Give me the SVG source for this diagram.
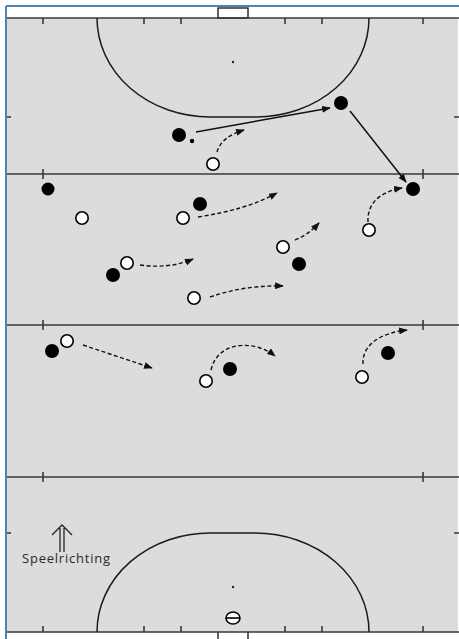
<svg xmlns="http://www.w3.org/2000/svg" width="459" height="639" viewBox="0 0 459 639">
<style>
.ln{stroke:#3a3a3a;stroke-width:1.6;fill:none}
.arc{stroke:#1a1a1a;stroke-width:1.5;fill:none}
.blk{fill:#000}
.wht{fill:#fff;stroke:#000;stroke-width:1.6}
.sol{stroke:#111;stroke-width:1.5;fill:none;marker-end:url(#ah)}
.dsh{stroke:#111;stroke-width:1.4;fill:none;stroke-dasharray:4 2.5;marker-end:url(#ah)}
.lbl{font-family:"Open Sans","Noto Sans",sans-serif;font-size:13px;fill:#2a2a2a}
</style>
<defs>
<marker id="ah" viewBox="0 0 10 8" refX="9" refY="4" markerWidth="9" markerHeight="7" markerUnits="userSpaceOnUse" orient="auto">
<path d="M0,0 L10,4 L0,8 Z" fill="#111"/>
</marker>
</defs>
<rect x="0" y="0" width="459" height="639" fill="#fff"/>
<g id="field">
<rect x="7" y="18" width="451" height="614" fill="#dcdcdc"/>
<rect x="218" y="8" width="30" height="10" fill="#fff" stroke="#222" stroke-width="1.4"/>
<path class="ln" d="M218,632 V639 M248,632 V639"/>
<path class="ln" d="M7,18 H459 M7,174 H459 M7,325 H459 M7,477 H459 M7,632 H459"/>
<path class="ln" d="M43,18 V24 M144,18 V24 M181,18 V24 M285,18 V24 M322,18 V24 M423,18 V24"/>
<path class="ln" d="M43,632 V626 M144,632 V626 M181,632 V626 M285,632 V626 M322,632 V626 M423,632 V626"/>
<path class="ln" d="M43,169 V179 M423,169 V179 M43,320 V330 M423,320 V330 M43,472 V482 M423,472 V482"/>
<path class="ln" d="M7,117 H11 M454,117 H459 M7,533 H11 M454,533 H459"/>
<path class="arc" d="M97,18 A113,99 0 0 0 210,117 L256,117 A113,99 0 0 0 369,18"/>
<path class="arc" d="M97,632 A113,99 0 0 1 211,533 L255,533 A114,99 0 0 1 369,632"/>
<circle cx="233" cy="62" r="1.2" fill="#222"/>
<circle cx="233" cy="587" r="1.2" fill="#222"/>
</g>
<path d="M6,6 H459 M6,6 V639" stroke="#4f81bd" stroke-width="2" fill="none"/>
<g id="connectors">
<path class="sol" d="M196,132 L330,108"/>
<path class="sol" d="M350,111 L406,182"/>
<path class="dsh" d="M217,152 Q221,137 244,130"/>
<path class="dsh" d="M198,217 C230,212 255,205 277,193"/>
<path class="dsh" d="M295,240 Q308,235 319,223"/>
<path class="dsh" d="M368,222 C367,205 378,192 402,188"/>
<path class="dsh" d="M140,265 Q170,269 193,259"/>
<path class="dsh" d="M210,297 Q245,285 283,286"/>
<path class="dsh" d="M83,345 L152,368"/>
<path class="dsh" d="M211,370 C218,340 255,340 275,356"/>
<path class="dsh" d="M363,364 C362,345 380,333 407,330"/>
</g>
<g id="ball-top"><circle cx="192" cy="141" r="2.2" class="blk"/></g>
<g id="b1"><circle cx="179" cy="135" r="7" class="blk"/></g>
<g id="b2"><circle cx="341" cy="103" r="7" class="blk"/></g>
<g id="w1"><circle cx="213" cy="164" r="6.2" class="wht"/></g>
<g id="b3"><circle cx="48" cy="189" r="6.5" class="blk"/></g>
<g id="w2"><circle cx="82" cy="218" r="6.2" class="wht"/></g>
<g id="b4"><circle cx="200" cy="204" r="7" class="blk"/></g>
<g id="w3"><circle cx="183" cy="218" r="6.2" class="wht"/></g>
<g id="w4"><circle cx="283" cy="247" r="6.2" class="wht"/></g>
<g id="b5"><circle cx="299" cy="264" r="7" class="blk"/></g>
<g id="w5"><circle cx="369" cy="230" r="6.2" class="wht"/></g>
<g id="b6"><circle cx="413" cy="189" r="7" class="blk"/></g>
<g id="w6"><circle cx="127" cy="263" r="6.2" class="wht"/></g>
<g id="b7"><circle cx="113" cy="275" r="7" class="blk"/></g>
<g id="w7"><circle cx="194" cy="298" r="6.2" class="wht"/></g>
<g id="b8"><circle cx="52" cy="351" r="7" class="blk"/></g>
<g id="w8"><circle cx="67" cy="341" r="6.2" class="wht"/></g>
<g id="w9"><circle cx="206" cy="381" r="6.2" class="wht"/></g>
<g id="b9"><circle cx="230" cy="369" r="7" class="blk"/></g>
<g id="w10"><circle cx="362" cy="377" r="6.2" class="wht"/></g>
<g id="b10"><circle cx="388" cy="353" r="7" class="blk"/></g>
<g id="ball-bottom">
<ellipse cx="233" cy="618" rx="7" ry="6" fill="#fff" stroke="#000" stroke-width="1.6"/>
<path d="M226,618 H240" stroke="#000" stroke-width="1.6"/>
</g>
<g id="direction">
<path d="M60,528 V552 M64,528 V552 M52,535 L62,525 L72,535" stroke="#222" stroke-width="1.3" fill="none"/>
<text class="lbl" x="22" y="563" textLength="88" lengthAdjust="spacing">Speelrichting</text>
</g>
</svg>
